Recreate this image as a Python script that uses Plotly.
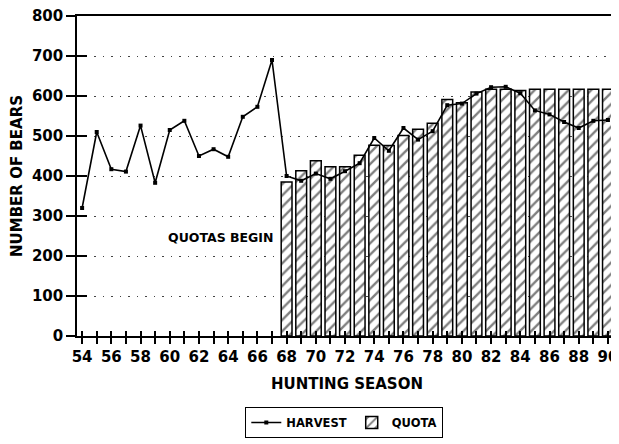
import plotly.graph_objects as go

harvest_years = list(range(54, 91))
harvest = [320, 510, 417, 411, 526, 383, 515, 538, 450, 467, 448, 548, 573, 690,
           400, 388, 406, 393, 412, 432, 495, 463, 520, 491, 512, 577, 581, 606,
           622, 623, 607, 564, 554, 535, 520, 538, 540]
quota_years = list(range(68, 91))
quota = [385, 413, 438, 423, 423, 452, 477, 476, 501, 517, 532, 591, 583, 610,
         617, 617, 614, 617, 617, 617, 617, 617, 617]
x_tick_vals = list(range(54, 91))
x_tick_text = ["<b>%d</b>" % v if v % 2 == 0 else "" for v in x_tick_vals]
y_tick_vals = [0, 100, 200, 300, 400, 500, 600, 700, 800]
y_tick_text = ["<b>%d</b>" % v for v in y_tick_vals]

FONT = "DejaVu Sans"

fig = go.Figure()
fig.add_trace(go.Scatter(
    x=harvest_years, y=harvest, name="<b>HARVEST</b>", mode="lines+markers",
    line=dict(color="black", width=1.6),
    marker=dict(symbol="square", size=4, color="black"),
    xaxis="x", yaxis="y",
))
fig.add_trace(go.Bar(
    x=quota_years, y=quota, name="<b>QUOTA</b>", width=0.74,
    marker=dict(color="white", line=dict(color="black", width=1.5),
                pattern=dict(shape="/", fgcolor="black", bgcolor="white",
                             size=8, solidity=0.3)),
    xaxis="x", yaxis="y",
))

fig.add_annotation(x=67.2, y=247, text="<b>QUOTAS BEGIN</b>", showarrow=False,
                   xanchor="right", yanchor="middle",
                   font=dict(family=FONT, size=12.5, color="black"))

xr = [53.65, 90.62]
yr = [0, 800]
fig.update_layout(
    width=611, height=436,
    margin=dict(l=69, r=2, t=8, b=108, autoexpand=False),
    paper_bgcolor="white", plot_bgcolor="white",
    font=dict(family=FONT, color="black"),
    showlegend=True,
    legend=dict(orientation="h", x=0.495, xanchor="center", y=-0.222, yanchor="top",
                bordercolor="black", borderwidth=1, bgcolor="white",
                font=dict(family=FONT, size=11.5, color="black"),
                itemwidth=30, tracegroupgap=0),
    xaxis=dict(range=xr, tickvals=x_tick_vals, ticktext=x_tick_text, automargin=False,
               ticklabeloverflow="allow",
               ticks="outside", ticklen=6, tickwidth=1.5, tickcolor="black",
               showline=True, linecolor="black", linewidth=1.5, mirror=True,
               showgrid=False, zeroline=False,
               tickfont=dict(family=FONT, size=15, color="black"),
               title=dict(text="<b>HUNTING SEASON</b>", standoff=14,
                          font=dict(family=FONT, size=15, color="black"))),
    xaxis2=dict(range=xr, overlaying="x", side="bottom", tickvals=x_tick_vals,
                ticks="inside", ticklen=5, tickwidth=1.5, tickcolor="black", automargin=False,
                showticklabels=False, showgrid=False, zeroline=False, showline=False),
    yaxis=dict(range=yr, tickvals=y_tick_vals, ticktext=y_tick_text, automargin=False,
               ticklabeloverflow="allow",
               ticks="outside", ticklen=9, tickwidth=1.5, tickcolor="black",
               showline=True, linecolor="black", linewidth=1.5, mirror=True,
               showgrid=True, gridcolor="#444", gridwidth=1.3, griddash="1.5px,7px",
               zeroline=False,
               tickfont=dict(family=FONT, size=15, color="black"),
               title=dict(text="<b>NUMBER OF BEARS</b>", standoff=8,
                          font=dict(family=FONT, size=15, color="black"))),
    yaxis2=dict(range=yr, overlaying="y", side="left", tickvals=y_tick_vals,
                ticks="inside", ticklen=10, tickwidth=1.5, tickcolor="black", automargin=False,
                showticklabels=False, showgrid=False, zeroline=False, showline=False),
)
fig.add_trace(go.Scatter(x=[None], y=[None], xaxis="x2", yaxis="y2",
                         showlegend=False, hoverinfo="skip"))

fig.write_html("out.html")
